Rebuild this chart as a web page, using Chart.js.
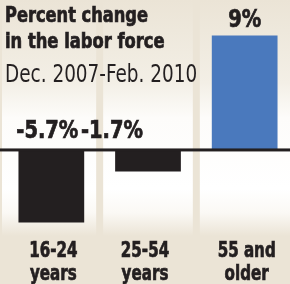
<!DOCTYPE html>
<html>
<head>
<meta charset="utf-8">
<script src="https://cdn.jsdelivr.net/npm/chart.js@4/dist/chart.umd.min.js"></script>
<style>
  html, body { margin: 0; padding: 0; background: #ebe4d6; }
  #wrap { position: relative; width: 290px; height: 284px; overflow: hidden; }
</style>
</head>
<body>
<div id="wrap"><canvas id="laborChart" width="293" height="284"></canvas></div>
<script>
// data
const categories = [["16-24", "years"], ["25-54", "years"], ["55 and", "older"]];
const values = [-5.7, -1.7, 9];
const valueLabels = ["-5.7%", "-1.7%", "9%"];
const barColors = ["#231f20", "#231f20", "#4a79bd"];
const titleLines = ["Percent change", "in the labor force"];
const subtitle = "Dec. 2007-Feb. 2010";

const FONT = "'DejaVu Sans Condensed', 'Liberation Sans', sans-serif";
const INK = "#231f20";

// the original uses a narrow, heavy face: squeeze the text and thicken bold text a little
function squeezed(ctx, text, x, y, sx, align, heavy) {
    ctx.save();
    ctx.translate(x, y);
    ctx.scale(sx, 1);
    ctx.textAlign = align;
    ctx.fillText(text, 0, 0);
    if (heavy) {
        ctx.strokeStyle = INK;
        ctx.lineWidth = 0.7;
        ctx.strokeText(text, 0, 0);
    }
    ctx.restore();
}

// background panels, zero line and all text
const decor = {
    id: "decor",
    beforeDatasetsDraw(chart) {
        const { ctx } = chart;
        const x = chart.scales.x;
        ctx.save();
        ctx.fillStyle = "#ebe4d6";
        ctx.fillRect(0, 0, chart.width, chart.height);
        const grad = ctx.createLinearGradient(0, 0, 0, 236);
        grad.addColorStop(0, "#ebe4d6");
        grad.addColorStop(0.35, "#f3efe6");
        grad.addColorStop(0.5, "#fdfcfa");
        grad.addColorStop(0.8, "#ffffff");
        grad.addColorStop(0.9, "#fbf9f5");
        grad.addColorStop(1, "#ebe4d6");
        ctx.fillStyle = grad;
        for (let i = 0; i < categories.length; i++) {
            const c = x.getPixelForValue(i);
            const left = i === 0 ? 2 : (c + x.getPixelForValue(i - 1)) / 2 + 3.5;
            const right = i === categories.length - 1 ? chart.width : (c + x.getPixelForValue(i + 1)) / 2 - 3.5;
            ctx.fillRect(left, 0, right - left, 236);
        }
        ctx.restore();
    },
    afterDatasetsDraw(chart) {
        const { ctx } = chart;
        const x = chart.scales.x;
        const y = chart.scales.y;
        const zero = y.getPixelForValue(0);
        ctx.save();
        ctx.fillStyle = INK;
        ctx.fillRect(0, zero - 1.5, chart.width, 3);
        ctx.textBaseline = "alphabetic";

        // title
        ctx.font = "bold 21px " + FONT;
        squeezed(ctx, titleLines[0], 5, 22, 0.86, "left", true);
        squeezed(ctx, titleLines[1], 5, 48, 0.865, "left", true);
        ctx.font = "25px " + FONT;
        squeezed(ctx, subtitle, 5, 82, 0.82, "left", false);

        // value labels
        const shift = [-4, -36, 0];
        ctx.font = "bold 24px " + FONT;
        values.forEach((v, i) => {
            const cx = x.getPixelForValue(i) + shift[i];
            const ty = v >= 0 ? y.getPixelForValue(v) - 8 : zero - 12;
            squeezed(ctx, valueLabels[i], cx, ty, 0.9, "center", true);
        });

        // category labels
        ctx.font = "bold 21px " + FONT;
        categories.forEach((lines, i) => {
            const cx = x.getPixelForValue(i) + (i === 1 ? -3 : 2);
            lines.forEach((t, j) => squeezed(ctx, t, cx, 257 + j * 23, 0.8, "center", true));
        });
        ctx.restore();
    }
};

new Chart(document.getElementById("laborChart"), {
    type: "bar",
    data: {
        labels: categories,
        datasets: [{
            data: values,
            backgroundColor: barColors,
            borderWidth: 0,
            barPercentage: 0.68,
            categoryPercentage: 1,
        }],
    },
    options: {
        responsive: false,
        animation: false,
        layout: { padding: { left: 3, right: 0, top: 10, bottom: 45 } },
        scales: {
            x: { display: false },
            y: { display: false, min: -7, max: 11 },
        },
        plugins: {
            legend: { display: false },
            tooltip: { enabled: false },
        },
    },
    plugins: [decor],
});
</script>
</body>
</html>
